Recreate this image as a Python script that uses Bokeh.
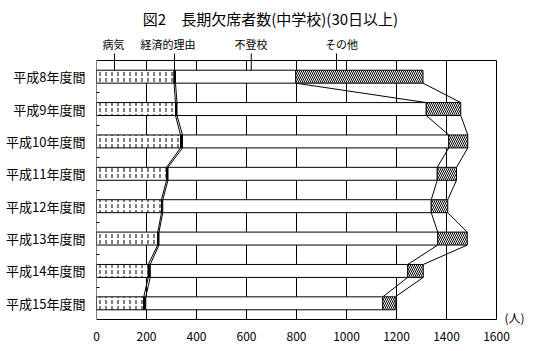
from bokeh.plotting import figure
from bokeh.models import Range1d, FixedTicker
from bokeh.embed import file_html
from bokeh.resources import INLINE
from bokeh.core.properties import value
import numpy as np

# ---- data ----
categories = ["平成8年度間", "平成9年度間", "平成10年度間", "平成11年度間",
              "平成12年度間", "平成13年度間", "平成14年度間", "平成15年度間"]
byouki = [310, 316, 336, 280, 260, 245, 207, 189]      # 病気
keizai = [6, 6, 8, 6, 5, 5, 8, 8]                       # 経済的理由
futoko = [481, 997, 1065, 1077, 1074, 1115, 1030, 948]  # 不登校
sonota = [509, 138, 76, 77, 66, 118, 62, 50]            # その他
series_names = ["病気", "経済的理由", "不登校", "その他"]
x_ticks = [0, 200, 400, 600, 800, 1000, 1200, 1400, 1600]
title_text = "図2　長期欠席者数(中学校)(30日以上)"
unit_text = "(人)"

FONT = "Noto Sans CJK JP"
n = len(categories)
centers = np.arange(n) + 0.5
half = 0.2
PX = 32.375  # pixels per category

c1 = np.array(byouki, dtype=float)
c2 = c1 + np.array(keizai)
c3 = c2 + np.array(futoko)
c4 = c3 + np.array(sonota)

p = figure(width=546, height=351, output_backend="svg", toolbar_location=None,
           title=None,
           x_range=Range1d(0, 1800), y_range=Range1d(n + 7 / PX, -60 / PX),
           min_border_left=96, min_border_right=0, min_border_top=0,
           min_border_bottom=25)
p.outline_line_color = None
p.background_fill_color = "white"
p.border_fill_color = "white"
p.xgrid.visible = False
p.ygrid.visible = False

# grid lines and frame
p.segment(x0=x_ticks[1:-1], y0=0, x1=x_ticks[1:-1], y1=n, line_color="black", line_width=1)
p.quad(left=x_ticks[0], right=x_ticks[-1], top=0, bottom=n, fill_color=None,
       line_color="black", line_width=1)

# series lines
for b in (c1, c2, c3, c4):
    p.segment(x0=b[:-1], y0=centers[:-1] + half, x1=b[1:], y1=centers[1:] - half,
              line_color="black", line_width=1)

# bars
p.hbar(y=centers, left=0, right=c1, height=2 * half, fill_color="white",
       line_color="black", hatch_pattern="vertical_dash", hatch_color="black",
       hatch_scale=6, hatch_weight=1)
p.hbar(y=centers, left=c1, right=c2, height=2 * half, fill_color="black",
       line_color="black")
p.hbar(y=centers, left=c2, right=c3, height=2 * half, fill_color="white",
       line_color="black")
p.hbar(y=centers, left=c3, right=c4, height=2 * half, fill_color="white",
       line_color="black", hatch_pattern="left_diagonal_line", hatch_color="black",
       hatch_scale=4, hatch_weight=1)

# series labels with leader lines
label_x = [68, 286, 618, 980]
leader_x = [72, 312, 619, 960]
p.segment(x0=leader_x, y0=-0.216, x1=leader_x, y1=centers[0] - half,
          line_color="black", line_width=1)
p.text(x=label_x, y=-0.525, text=series_names, text_font=value(FONT),
       text_font_size="11px", text_align="center", text_baseline="middle",
       text_color="black")

# title
p.text(x=[696], y=[-1.297], text=[title_text], text_font=value(FONT),
       text_font_size="15px", text_align="center", text_baseline="middle",
       text_color="black")
# unit
p.text(x=[1672], y=[n - 0.05], text=[unit_text], text_font=value(FONT),
       text_font_size="12px", text_align="center", text_baseline="middle",
       text_color="black")

# axes
xa = p.xaxis[0]
xa.ticker = FixedTicker(ticks=x_ticks)
xa.bounds = (x_ticks[0], x_ticks[-1])
xa.axis_line_color = None
xa.major_tick_in = 0
xa.major_tick_out = 0
xa.minor_tick_line_color = None
xa.major_label_standoff = 5
xa.major_label_text_font = FONT
xa.major_label_text_font_size = "12px"
xa.major_label_text_color = "black"

ya = p.yaxis[0]
ya.ticker = FixedTicker(ticks=list(centers), minor_ticks=list(range(1, n)))
ya.bounds = (0, n)
ya.axis_line_color = None
ya.major_tick_in = 0
ya.major_tick_out = 0
ya.minor_tick_in = 3
ya.minor_tick_out = 0
ya.minor_tick_line_color = "black"
ya.major_label_overrides = {float(c): lab for c, lab in zip(centers, categories)}
ya.major_label_standoff = 11
ya.major_label_text_font = FONT
ya.major_label_text_font_size = "13px"
ya.major_label_text_color = "black"

open("out.html", "w").write(file_html(p, INLINE))
